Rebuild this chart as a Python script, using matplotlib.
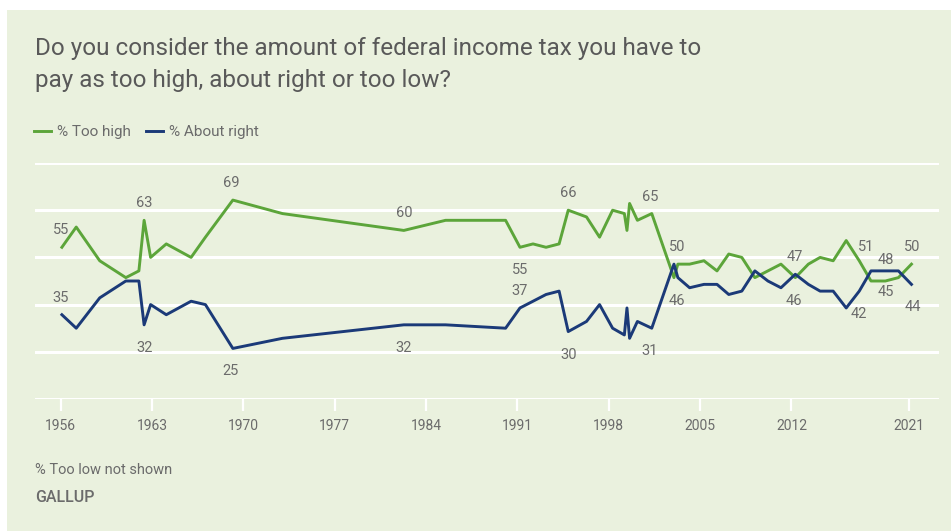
import matplotlib.pyplot as plt
from matplotlib.patches import Rectangle

# survey dates (fractional year) and shares
years = [1956.1, 1957.2, 1959.0, 1961.0, 1962.0, 1962.4, 1962.9, 1964.1, 1966.0, 1967.1,
         1969.2, 1973.0, 1982.3, 1985.5, 1990.1, 1991.2, 1992.2, 1993.2, 1994.2, 1994.9,
         1996.3, 1997.3, 1998.3, 1999.2, 1999.4, 1999.6, 2000.2, 2001.3, 2003.0, 2003.3,
         2004.2, 2005.3, 2006.3, 2007.2, 2008.2, 2009.2, 2010.2, 2011.2, 2012.3, 2013.3,
         2014.2, 2015.2, 2016.2, 2017.2, 2018.1, 2019.2, 2020.2, 2021.2]
too_high = [55, 61, 51, 46, 48, 63, 52, 56, 52, 58,
            69, 65, 60, 63, 63, 55, 56, 55, 56, 66,
            64, 58, 66, 65, 60, 68, 63, 65, 46, 50,
            50, 51, 48, 53, 52, 46, 48, 50, 46, 50,
            52, 51, 57, 51, 45, 45, 46, 50]
about_right = [35, 31, 40, 45, 45, 32, 38, 35, 39, 38,
               25, 28, 32, 32, 31, 37, 39, 41, 42, 30,
               33, 38, 31, 29, 37, 28, 33, 31, 50, 46,
               43, 44, 44, 41, 42, 48, 45, 43, 47, 44,
               42, 42, 37, 42, 48, 48, 48, 44]
tick_years = [1956, 1963, 1970, 1977, 1984, 1991, 1998, 2005, 2012, 2021]
grid_vals = [10, 24, 38, 52, 66, 80]

GREEN = '#5ca53a'
NAVY = '#1b3a78'
BG = '#eaf1de'
GRAY = '#6b6b6b'

plt.rcParams['font.family'] = ['Roboto', 'DejaVu Sans']

W, H = 951, 531
fig = plt.figure(figsize=(W / 100, H / 100), dpi=100)
fig.patch.set_facecolor('white')
fig.patches.append(Rectangle((7 / W, 0), 1, 1 - 10 / H, transform=fig.transFigure,
                             facecolor=BG, edgecolor='none', zorder=-10))

ax = fig.add_axes([35 / W, 1 - 399 / H, (939 - 35) / W, (399 - 163) / H])
ax.set_facecolor('none')
ax.set_xlim(1954.04, 2023.31)
ax.set_ylim(10, 80)
for v in grid_vals:
    ax.axhline(v, color='white', lw=2.2, zorder=1)

l1, = ax.plot(years, too_high, color=GREEN, lw=2.1, zorder=3, label='% Too high')
l2, = ax.plot(years, about_right, color=NAVY, lw=2.1, zorder=3, label='% About right')

for s in ax.spines.values():
    s.set_visible(False)
ax.set_yticks([])
ax.set_xticks(tick_years)
ax.set_xticklabels([str(y) for y in tick_years])
ax.tick_params(axis='x', length=8.5, width=1.6, color='white', pad=6,
               labelsize=10, labelcolor=GRAY)

# value labels: (series, year, dx px, dy px; positive dy = up)
series = {'high': too_high, 'right': about_right}
labels = [('high', 1956.1, -1, 17), ('right', 1956.1, -1, 17),
          ('high', 1962.4, 0, 17), ('right', 1962.4, 0, -23),
          ('high', 1969.2, -2, 17), ('right', 1969.2, -2, -23),
          ('high', 1982.3, 0, 17), ('right', 1982.3, 0, -23),
          ('high', 1991.2, 0, -23), ('right', 1991.2, 0, 17),
          ('high', 1994.9, 0, 17), ('right', 1994.9, 0, -23),
          ('high', 2001.3, -2, 17), ('right', 2001.3, -2, -23),
          ('right', 2003.0, 3, 17), ('high', 2003.0, 3, -23),
          ('right', 2012.3, -1, 17), ('high', 2012.3, -1, -23),
          ('high', 2017.2, 7, 14), ('right', 2017.2, 0, -23),
          ('right', 2019.2, 0, 11), ('high', 2019.2, 0, -11),
          ('high', 2021.2, 1, 17), ('right', 2021.2, 1, -23)]
for key, yr, dx, dy in labels:
    i = years.index(yr)
    val = series[key][i]
    ax.annotate(str(val), xy=(yr, val), xytext=(dx, dy), textcoords='offset pixels',
                ha='center', va='center', fontsize=10.5, color=GRAY, annotation_clip=False)

fig.text(35 / W, 1 - 48 / H, 'Do you consider the amount of federal income tax you have to',
         fontsize=17.5, color='#595959', va='center', ha='left')
fig.text(35 / W, 1 - 80 / H, 'pay as too high, about right or too low?',
         fontsize=17.5, color='#595959', va='center', ha='left')

fig.legend(handles=[l1, l2], loc='center left', bbox_to_anchor=(31 / W, 1 - 132 / H),
           ncol=2, frameon=False, fontsize=11, handlelength=1.1, handletextpad=0.4,
           columnspacing=1.0, labelcolor=GRAY, borderaxespad=0, borderpad=0.2)

fig.text(35 / W, 1 - 470 / H, '% Too low not shown', fontsize=10.5, color=GRAY, va='center')
fig.text(35 / W, 1 - 497 / H, 'GALLUP', fontsize=11.5, color=GRAY, va='center',
         fontweight='medium')

fig.savefig('out.png', dpi=100, facecolor=fig.get_facecolor())
